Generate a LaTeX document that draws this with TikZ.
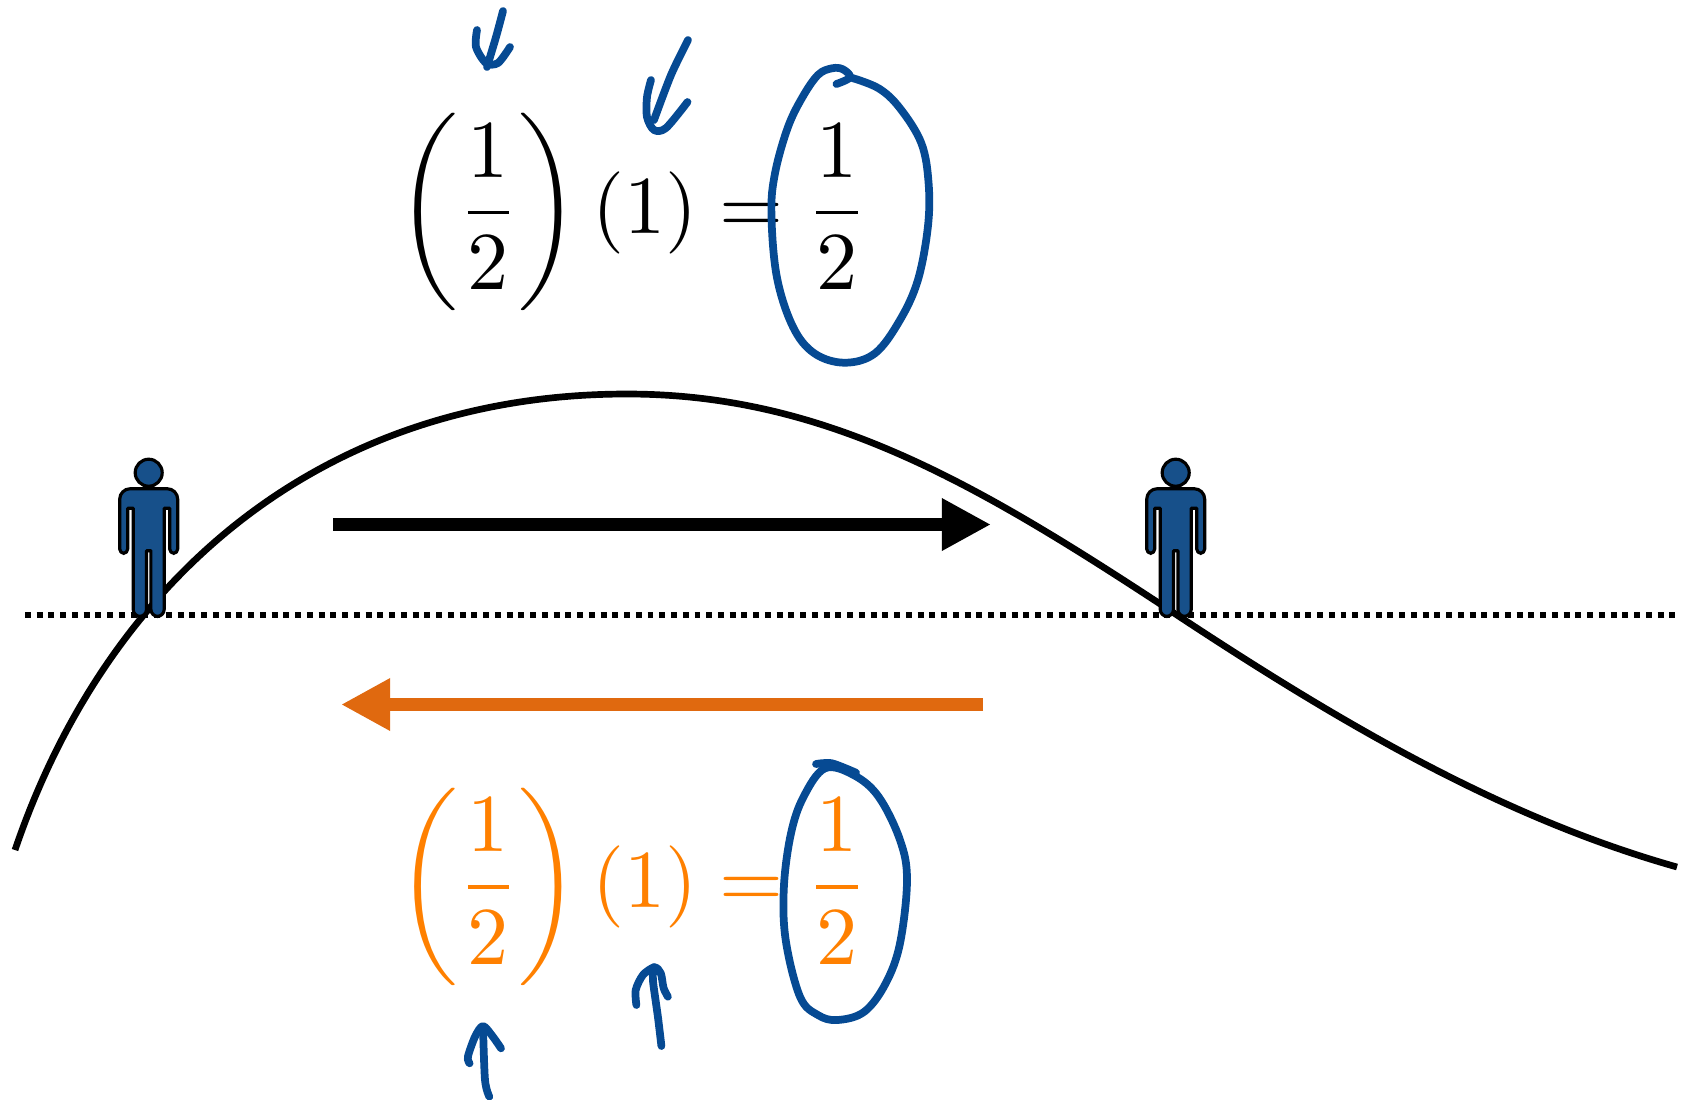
\documentclass[tikz,border=0pt]{standalone}
\usepackage{amsmath}
\usetikzlibrary{arrows.meta}

\definecolor{inkblue}{HTML}{064A93}
\definecolor{bodyblue}{HTML}{17508A}
\definecolor{eqorange}{HTML}{FF8000}
\definecolor{arroworange}{HTML}{E0690F}

\tikzset{
  eqn/.style={scale=2.34, inner sep=0pt, anchor=base},
  ink/.style={inkblue, line width=2.2pt, line cap=round, line join=round},
  bigarrow/.style={line width=3.6pt, -{Triangle[length=14pt,width=14pt]}},
  person/.pic={
    \draw[black, fill=bodyblue, line width=0.9pt] (0,0) circle (13.5);
    \draw[black, fill=bodyblue, line width=0.9pt, line join=round]
      (0,16) [rounded corners=3pt] -- (-29,16) [rounded corners=1.25pt] -- (-29,80.7) -- (-21,80.7)
      [sharp corners] -- (-21,35.5) -- (-15.5,35.5) [rounded corners=2pt] -- (-15.5,143.7) -- (-2.2,143.7)
      [sharp corners] -- (-2.2,78) -- (2.2,78) [rounded corners=2pt] -- (2.2,143.7) -- (15.5,143.7)
      [sharp corners] -- (15.5,35.5) -- (21,35.5) [rounded corners=1.25pt] -- (21,80.7) -- (29,80.7)
      [rounded corners=3pt] -- (29,16) [sharp corners] -- cycle;
  }
}

\begin{document}
\begin{tikzpicture}[x=0.01cm, y=-0.01cm]
\useasboundingbox (0,0) rectangle (1688,1099);

% ground and wave
\draw[line width=1.7pt, dash pattern=on 1.7pt off 1.64pt] (25,614.5) -- (1680,614.5);
\draw[line width=1.9pt] (15,850) .. controls (105,585) and (316,394) .. (627,394)
  .. controls (827,394) and (980,485) .. (1180,617)
  .. controls (1350,729) and (1507,819) .. (1677,867);

\pic at (148.7,472.7) {person};
\pic at (1175.7,472.7) {person};

% travel arrows
\coordinate (goStart) at (333,524.5);
\coordinate (goEnd) at (991,524.5);
\coordinate (backStart) at (983,704.5);
\coordinate (backEnd) at (341,704.5);
\draw[bigarrow, black] (goStart) -- (goEnd);
\draw[bigarrow, arroworange] (backStart) -- (backEnd);

% top equation
\node[eqn] (topPaired) at (488.5,233) {$\left(\dfrac{1}{2}\right)$};
\node[eqn] (topOne) at (645,233) {$(1)$};
\node[eqn] (topEq) at (751.5,233) {$=$};
\node[eqn] (topHalf) at (837,233) {$\dfrac{1}{2}$};

% bottom equation
\begin{scope}[every node/.append style={text=eqorange}]
\node[eqn] (botPaired) at (488.5,907.6) {$\left(\dfrac{1}{2}\right)$};
\node[eqn] (botOne) at (645,907.6) {$(1)$};
\node[eqn] (botEq) at (751.5,907.6) {$=$};
\node[eqn] (botHalf) at (837,907.6) {$\dfrac{1}{2}$};
\end{scope}

% pen marks, top
\draw[ink] plot[smooth] coordinates {(503,11) (496,37) (487,67)};
\draw[ink] plot[smooth] coordinates {(477,30) (476,47) (486,63) (498,63) (510,47)};
\draw[ink] plot[smooth] coordinates {(688,40) (671,75) (654,120)};
\draw[ink] plot[smooth] coordinates {(651,80) (647,97) (647,117) (654,130) (666,128) (687.5,102)};
\draw[ink] plot[smooth, tension=0.6] coordinates {(836.4,84) (850,77.3) (842.9,69.3) (832,68.3) (817.9,75) (801.8,98.3) (787.5,128.3) (775,173.3) (771.4,213.3) (776.8,276.7) (792.9,326.7) (814.3,353.3) (844.6,362.7) (875,353.3) (900,320) (917.9,280) (927.9,226.7) (928.6,183.3) (921.4,143.3) (900,108.3) (878.6,88.3) (850,77.3)};

% pen marks, bottom
\draw[ink] plot[smooth] coordinates {(816,764) (832,763.3) (856,772.7)};
\draw[ink] plot[smooth cycle, tension=0.6] coordinates {(825,768.3) (803.6,796.7) (791,833.3) (783.9,886.7) (785.7,940) (800,996.7) (817.9,1015) (837.5,1020) (864.3,1011.7) (885.7,983.3) (900,943.3) (907,880) (900,840) (878.6,796.7) (853.6,775)};
\draw[ink] plot[smooth] coordinates {(489.3,1096.7) (485,1080) (483,1026.7)};
\draw[ink] plot[smooth] coordinates {(469.6,1063.3) (467.9,1056.7) (475,1036.7) (483,1026) (492.9,1036.7) (501,1048.3)};
\draw[ink] plot[smooth] coordinates {(661.4,1046) (657.9,1016.7) (652.9,980) (654,967)};
\draw[ink] plot[smooth] coordinates {(636.4,1005) (635.7,990) (642.9,975) (654.3,967.3) (660.7,973) (663.6,988) (667.9,996.7)};
\end{tikzpicture}
\end{document}
